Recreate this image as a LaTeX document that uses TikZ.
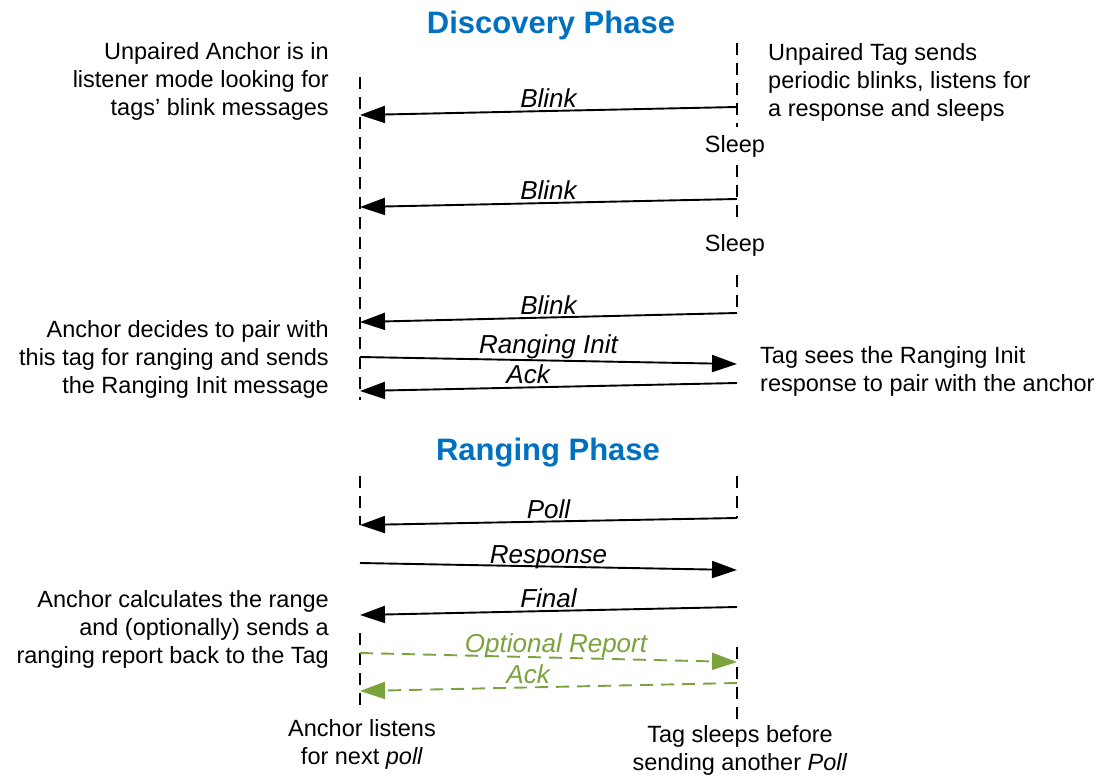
\documentclass[tikz,border=0pt]{standalone}
\usepackage{fontspec}
\setmainfont{Liberation Sans}
\usetikzlibrary{arrows.meta, positioning}
\definecolor{phaseblue}{RGB}{0, 112, 192}
\definecolor{optgreen}{RGB}{122, 163, 62}

\tikzset{
  lifeline/.style={line width=1.4pt, dash pattern=on 12pt off 8pt},
  msg/.style={line width=1.9pt, -{Triangle[length=25pt, width=17pt]}},
  optmsg/.style={msg, color=optgreen, dash pattern=on 13pt off 8pt},
  lbl/.style={anchor=base, inner sep=0pt, yshift=3.5pt, font=\fontsize{26}{30}\selectfont\itshape},
  note/.style={inner sep=0pt, font=\fontsize{23.5}{28}\selectfont},
  phase/.style={anchor=base, inner sep=0pt, color=phaseblue, font=\fontsize{31}{36}\selectfont\bfseries},
}

\begin{document}
\begin{tikzpicture}[x=1pt, y=-1pt]
    \useasboundingbox (0,0) rectangle (1111,779);

    \node[phase] (discovery) at (551,33) {Discovery Phase};
    \node[phase] (ranging) at (548,460) {Ranging Phase};

    % lifelines: anchor at x=360, tag at x=737
    \foreach \x/\ya/\yb in {360/77/400, 360/476/525, 360/633/710,
                            737/43/127, 737/165/217, 737/275/313, 737/476/518, 737/647/720} {
        \draw[lifeline] (\x,\ya) -- (\x,\yb);
    }

    \node[note] (sleep1) at (735,146) {Sleep};
    \node[note] (sleep2) at (735,245) {Sleep};

    % discovery messages
    \coordinate (tag1) at (737,107);  \coordinate (anc1) at (360,115);
    \coordinate (tag2) at (737,199);  \coordinate (anc2) at (360,207);
    \coordinate (tag3) at (737,313);  \coordinate (anc3) at (360,322);
    \coordinate (anc4) at (360,357);  \coordinate (tag4) at (737,364);
    \coordinate (tag5) at (737,383);  \coordinate (anc5) at (360,391);

    \draw[msg] (tag1) -- (anc1) node[lbl, midway] (blink1) {Blink};
    \draw[msg] (tag2) -- (anc2) node[lbl, midway] (blink2) {Blink};
    \draw[msg] (tag3) -- (anc3) node[lbl, midway] (blink3) {Blink};
    \draw[msg] (anc4) -- (tag4) node[lbl, midway, yshift=4pt] (init) {Ranging Init};
    \draw[msg] (tag5) -- (anc5) node[lbl, pos=0.554] (ack1) {Ack};

    % ranging messages
    \coordinate (tag6) at (737,518);  \coordinate (anc6) at (360,525);
    \coordinate (anc7) at (360,563);  \coordinate (tag7) at (737,570);
    \coordinate (tag8) at (737,607);  \coordinate (anc8) at (360,615);
    \coordinate (anc9) at (360,653);  \coordinate (tag9) at (737,662);
    \coordinate (tag10) at (737,683); \coordinate (anc10) at (360,691);

    \draw[msg] (tag6) -- (anc6) node[lbl, midway] (poll) {Poll};
    \draw[msg] (anc7) -- (tag7) node[lbl, midway] (resp) {Response};
    \draw[msg] (tag8) -- (anc8) node[lbl, midway] (final) {Final};
    \draw[optmsg] (anc9) -- (tag9) node[lbl, pos=0.52, yshift=1.5pt] (report) {Optional Report};
    \draw[optmsg] (tag10) -- (anc10) node[lbl, pos=0.554] (ack2) {Ack};

    % side notes
    \node[note, align=right, anchor=north east] (ancidle) at (329,42)
        {Unpaired Anchor is in\\listener mode looking for\\tags' blink messages};
    \node[note, align=left, anchor=north west] (tagidle) at (768,43)
        {Unpaired Tag sends\\periodic blinks, listens for\\a response and sleeps};
    \node[note, align=right, anchor=north east] (ancpair) at (329,320)
        {Anchor decides to pair with\\this tag for ranging and sends\\the Ranging Init message};
    \node[note, align=left, anchor=north west] (tagpair) at (760,346)
        {Tag sees the Ranging Init\\response to pair with the anchor};
    \node[note, align=right, anchor=north east] (anccalc) at (329,590)
        {Anchor calculates the range\\and (optionally) sends a\\ranging report back to the Tag};
    \node[note, align=center, anchor=north] (ancnext) at (362,719)
        {Anchor listens\\for next \textit{poll}};
    \node[note, align=center, anchor=north] (tagnext) at (740,725)
        {Tag sleeps before\\sending another \textit{Poll}};
\end{tikzpicture}
\end{document}
